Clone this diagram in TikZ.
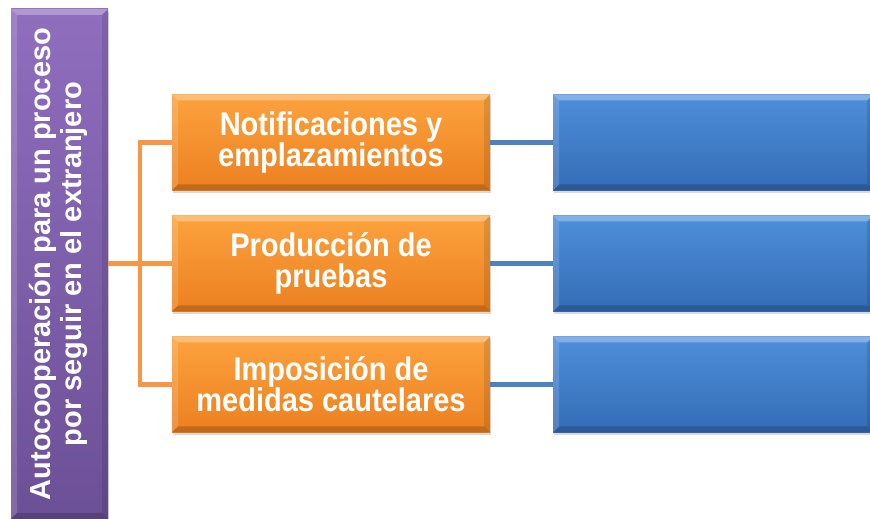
\documentclass[tikz,border=0pt]{standalone}
\usepackage{fontspec}
\setmainfont{Liberation Sans}
\usepackage{xcolor}
\usetikzlibrary{shadows}
\definecolor{purple top}{RGB}{143,110,190}
\definecolor{purple bottom}{RGB}{108,80,150}
\definecolor{orange top}{RGB}{252,162,62}
\definecolor{orange bottom}{RGB}{236,128,32}
\definecolor{blue top}{RGB}{78,142,218}
\definecolor{blue bottom}{RGB}{52,108,182}
\definecolor{orange line}{RGB}{247,150,70}
\definecolor{blue line}{RGB}{79,129,189}
\newcommand{\tallcell}[2]{\raisebox{-3pt}{\scalebox{1}[1.13]{\parbox{310pt}{\centering\lineskiplimit=-30pt #1\\ #2}}}}
\tikzstyle{bevel} = [path picture = {
    \fill[white, opacity = .3] (path picture bounding box.north west) -- (path picture bounding box.north east)
        -- ([shift = {(-6pt, -6pt)}]path picture bounding box.north east) -- ([shift = {(6pt, -6pt)}]path picture bounding box.north west) -- cycle;
    \fill[white, opacity = .15] (path picture bounding box.north west) -- (path picture bounding box.south west)
        -- ([shift = {(6pt, 6pt)}]path picture bounding box.south west) -- ([shift = {(6pt, -6pt)}]path picture bounding box.north west) -- cycle;
    \fill[black, opacity = .1] (path picture bounding box.north east) -- (path picture bounding box.south east)
        -- ([shift = {(-6pt, 6pt)}]path picture bounding box.south east) -- ([shift = {(-6pt, -6pt)}]path picture bounding box.north east) -- cycle;
    \fill[black, opacity = .18] (path picture bounding box.south west) -- (path picture bounding box.south east)
        -- ([shift = {(-6pt, 6pt)}]path picture bounding box.south east) -- ([shift = {(6pt, 6pt)}]path picture bounding box.south west) -- cycle;
}]
\tikzstyle{box} = [rectangle, inner sep = 0pt, bevel, text = white, align = center,
    drop shadow = {opacity = .3, shadow xshift = 1pt, shadow yshift = -3pt}]
\tikzstyle{topic} = [box, minimum width = 97pt, minimum height = 510pt, top color = purple top, bottom color = purple bottom,
    font = \fontsize{29}{31}\selectfont\bfseries]
\tikzstyle{branch} = [box, minimum width = 318pt, minimum height = 96pt, top color = orange top, bottom color = orange bottom,
    font = \fontsize{29}{27.5}\selectfont\bfseries]
\tikzstyle{leaf} = [box, minimum width = 320pt, minimum height = 96pt, top color = blue top, bottom color = blue bottom]
\tikzstyle{orange link} = [line width = 4.5pt, draw = orange line]
\tikzstyle{blue link} = [line width = 4.5pt, draw = blue line]

\begin{document}
\begin{tikzpicture}[x = 1pt, y = 1pt, node distance = 121pt]
        \clip (0, 0) rectangle (870, 519);
        % draw nodes
        \node[topic] (topic) at (59.5, 255) {\rotatebox{90}{\begin{tabular}{@{}c@{}}Autocooperación para un proceso\\ por seguir en el extranjero\end{tabular}}};
        \node[branch] (n1) at (331, 376.5) {\tallcell{Notificaciones y}{emplazamientos}};
        \node[branch] (n2) [below of = n1] {\tallcell{Producción de}{pruebas}};
        \node[branch] (n3) [below of = n2] {\tallcell{Imposición de}{medidas cautelares}};
        % draw bracket
        \coordinate (fork) at (140, 255.5);
        \draw[orange link] (topic.east |- n2) -- (n2.west);
        \draw[orange link] (n1.west) -| (fork) |- (n3.west);
        % draw empty boxes and links
        \node[leaf] (d1) [right of = n1, node distance = 382pt] {}
            edge [blue link] (n1);
        \node[leaf] (d2) [right of = n2, node distance = 382pt] {}
            edge [blue link] (n2);
        \node[leaf] (d3) [right of = n3, node distance = 382pt] {}
            edge [blue link] (n3);
    \end{tikzpicture}
\end{document}
